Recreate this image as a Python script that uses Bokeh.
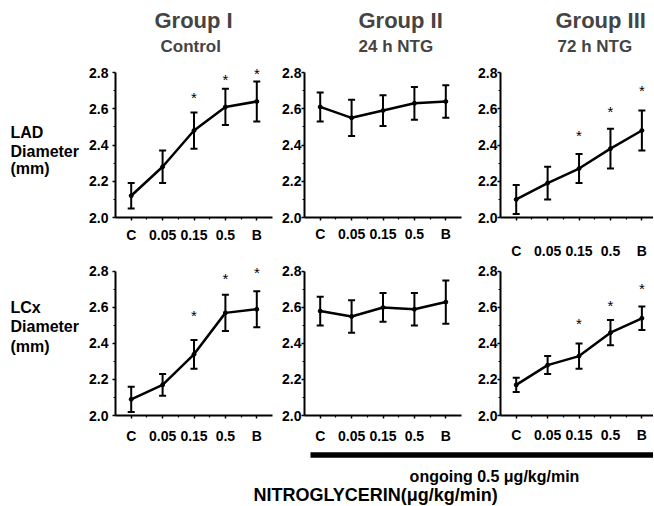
from bokeh.plotting import figure
from bokeh.models import (Range1d, FixedTicker, Whisker, TeeHead, ColumnDataSource,
                          LabelSet, Title, PrintfTickFormatter)
from bokeh.layouts import row, column
from bokeh.embed import file_html
from bokeh.resources import INLINE
from bokeh.core.properties import value

FONT = "Liberation Sans"

# ---------------- data ----------------
doses = ["C", "0.05", "0.15", "0.5", "B"]
dose_pos = [0, 1, 2, 3, 4]
y_ticks = [2.0, 2.2, 2.4, 2.6, 2.8]
y_minor = [2.1, 2.3, 2.5, 2.7]

lad_g1 = [2.12, 2.28, 2.48, 2.61, 2.64]
lad_g1_sem = [0.07, 0.09, 0.10, 0.10, 0.11]
lad_g1_star_x = [2, 3, 4]
lad_g1_star_y = [2.68, 2.78, 2.81]

lad_g2 = [2.61, 2.55, 2.59, 2.63, 2.64]
lad_g2_sem = [0.08, 0.10, 0.085, 0.09, 0.09]

lad_g3 = [2.10, 2.19, 2.27, 2.38, 2.48]
lad_g3_sem = [0.08, 0.09, 0.08, 0.11, 0.11]
lad_g3_star_x = [2, 3, 4]
lad_g3_star_y = [2.47, 2.60, 2.72]

lcx_g1 = [2.09, 2.17, 2.34, 2.57, 2.59]
lcx_g1_sem = [0.07, 0.06, 0.08, 0.10, 0.10]
lcx_g1_star_x = [2, 3, 4]
lcx_g1_star_y = [2.57, 2.78, 2.81]

lcx_g2 = [2.58, 2.55, 2.60, 2.59, 2.63]
lcx_g2_sem = [0.08, 0.09, 0.08, 0.09, 0.12]

lcx_g3 = [2.17, 2.28, 2.33, 2.46, 2.54]
lcx_g3_sem = [0.04, 0.05, 0.07, 0.07, 0.065]
lcx_g3_star_x = [2, 3, 4]
lcx_g3_star_y = [2.53, 2.63, 2.72]

group_titles = ["Group I", "Group II", "Group III"]
group_subtitles = ["Control", "24 h NTG", "72 h NTG"]
row_labels = [["LAD", "Diameter", "(mm)"], ["LCx", "Diameter", "(mm)"]]
ongoing_text = "ongoing 0.5 \u03bcg/kg/min"
xlabel_text = "NITROGLYCERIN(\u03bcg/kg/min)"

# ---------------- layout constants ----------------
ROW1_H, ROW2_H, FOOT_H = 263, 183, 59
ROW1_BT, ROW1_BB = 66, 46
ROW2_BT, ROW2_BB = 2, 30
FRAME_H = 151
PX_PER_UNIT = 145 / 0.8
Y_END = 2.0 + FRAME_H / PX_PER_UNIT
LAB_W = 80
COL_W = [198, 196, 179]
COL_BL = [35, 26, 26]
COL_BR = [6, 13, 0]
COL_XEND = [4.5, 4.5, 4.37]
Y_STD = [4, 0, 0]
TITLE_OFF = [39, 54, 55]
SUB_OFF = [45, 54, 57]
# row-label baselines, in the panels' own y units
ROW_LABEL_Y = [[2.469, 2.366, 2.269], [2.601, 2.497, 2.383]]


def panel(col, mean, sem, star_x, star_y, height, bt, bb, x_std, titles=False):
    p = figure(width=COL_W[col], height=height,
               x_range=Range1d(-0.5, COL_XEND[col]), y_range=Range1d(2.0, Y_END),
               output_backend="svg", toolbar_location=None,
               min_border_left=COL_BL[col], min_border_right=COL_BR[col],
               min_border_top=bt, min_border_bottom=bb)
    p.outline_line_color = None
    p.grid.visible = False
    p.background_fill_color = "white"
    p.border_fill_color = "white"

    for ax in (p.xaxis[0], p.yaxis[0]):
        ax.axis_line_width = 2
        ax.axis_line_color = "black"
        ax.major_tick_line_color = "black"
        ax.minor_tick_line_color = "black"
        ax.major_tick_line_width = 1.5
        ax.minor_tick_line_width = 1.2
        ax.major_tick_in = 0
        ax.minor_tick_in = 0
        ax.major_tick_out = 3
        ax.minor_tick_out = 2
        ax.major_label_text_font = FONT
        ax.major_label_text_font_style = "bold"
        ax.major_label_text_font_size = "14px"
        ax.major_label_text_color = "black"

    p.xaxis.ticker = FixedTicker(ticks=dose_pos, minor_ticks=[0.5, 1.5, 2.5, 3.5])
    p.xaxis.major_label_overrides = {k: d for k, d in zip(dose_pos, doses)}
    p.xaxis.major_label_standoff = x_std
    p.yaxis.ticker = FixedTicker(ticks=y_ticks, minor_ticks=y_minor)
    p.yaxis.formatter = PrintfTickFormatter(format="%.1f")
    p.yaxis.major_label_standoff = Y_STD[col]
    p.yaxis.bounds = (y_ticks[0], y_ticks[-1])

    src = ColumnDataSource(dict(
        x=dose_pos, y=mean,
        upper=[m + s for m, s in zip(mean, sem)],
        lower=[m - s for m, s in zip(mean, sem)]))
    p.line("x", "y", source=src, line_width=2.5, line_color="black")
    p.add_layout(Whisker(base="x", upper="upper", lower="lower", source=src,
                         line_width=2, line_color="black",
                         upper_head=TeeHead(size=7, line_width=2, line_color="black"),
                         lower_head=TeeHead(size=7, line_width=2, line_color="black")))
    p.scatter("x", "y", source=src, size=4, marker="circle", color="black")

    if star_x:
        ssrc = ColumnDataSource(dict(x=star_x, y=star_y, t=["*"] * len(star_x)))
        p.add_layout(LabelSet(x="x", y="y", text="t", source=ssrc,
                              text_align="center", text_baseline="middle",
                              text_font=value(FONT), text_font_size="15px",
                              y_offset=-3, text_color="black"))

    if titles:
        p.add_layout(Title(text=group_subtitles[col], align="left", offset=SUB_OFF[col],
                           text_font=FONT, text_font_style="bold", text_font_size="17px",
                           standoff=22), "above")
        p.add_layout(Title(text=group_titles[col], align="left", offset=TITLE_OFF[col],
                           text_font=FONT, text_font_style="bold", text_font_size="22px",
                           standoff=-19), "above")
    return p


def label_fig(height, bt, bb, lines, baselines):
    p = figure(width=LAB_W, height=height, x_range=Range1d(0, LAB_W), y_range=Range1d(2.0, Y_END),
               output_backend="svg", toolbar_location=None,
               x_axis_type=None, y_axis_type=None,
               min_border_left=0, min_border_right=0, min_border_top=bt, min_border_bottom=bb)
    p.outline_line_color = None
    p.grid.visible = False
    p.text(x=[10] * len(lines), y=baselines, text=lines, text_font=value(FONT),
           text_font_style="bold", text_font_size="16px", text_color="black",
           text_baseline="alphabetic", text_align="left")
    return p


lab1 = label_fig(ROW1_H, ROW1_BT, ROW1_BB, row_labels[0], ROW_LABEL_Y[0])
lab2 = label_fig(ROW2_H, ROW2_BT, ROW2_BB, row_labels[1], ROW_LABEL_Y[1])

p11 = panel(0, lad_g1, lad_g1_sem, lad_g1_star_x, lad_g1_star_y, ROW1_H, ROW1_BT, ROW1_BB, 6, True)
p12 = panel(1, lad_g2, lad_g2_sem, [], [], ROW1_H, ROW1_BT, ROW1_BB, 5, True)
p13 = panel(2, lad_g3, lad_g3_sem, lad_g3_star_x, lad_g3_star_y, ROW1_H, ROW1_BT, ROW1_BB, 22, True)

p21 = panel(0, lcx_g1, lcx_g1_sem, lcx_g1_star_x, lcx_g1_star_y, ROW2_H, ROW2_BT, ROW2_BB, 9)
p22 = panel(1, lcx_g2, lcx_g2_sem, [], [], ROW2_H, ROW2_BT, ROW2_BB, 9)
p23 = panel(2, lcx_g3, lcx_g3_sem, lcx_g3_star_x, lcx_g3_star_y, ROW2_H, ROW2_BT, ROW2_BB, 8)

TOTAL_W = LAB_W + sum(COL_W)
foot = figure(width=TOTAL_W, height=FOOT_H, x_range=Range1d(0, TOTAL_W), y_range=Range1d(0, FOOT_H),
              output_backend="svg", toolbar_location=None,
              x_axis_type=None, y_axis_type=None, min_border=0)
foot.outline_line_color = None
foot.grid.visible = False
BAR_LEFT, BAR_BOTTOM, BAR_TOP = 310, 47.7, 53.3
foot.quad(left=[BAR_LEFT], right=[TOTAL_W], bottom=[BAR_BOTTOM], top=[BAR_TOP],
          fill_color="black", line_color=None)
foot.text(x=[494], y=[29], text=[ongoing_text], text_font=value(FONT), text_font_style="bold",
          text_font_size="16px", text_align="center", text_baseline="alphabetic", text_color="black")
foot.text(x=[253], y=[11], text=[xlabel_text], text_font=value(FONT), text_font_style="bold",
          text_font_size="18px", text_align="left", text_baseline="alphabetic", text_color="black")

layout = column(row(lab1, p11, p12, p13), row(lab2, p21, p22, p23), foot)

open("out.html", "w").write(file_html(layout, INLINE))
